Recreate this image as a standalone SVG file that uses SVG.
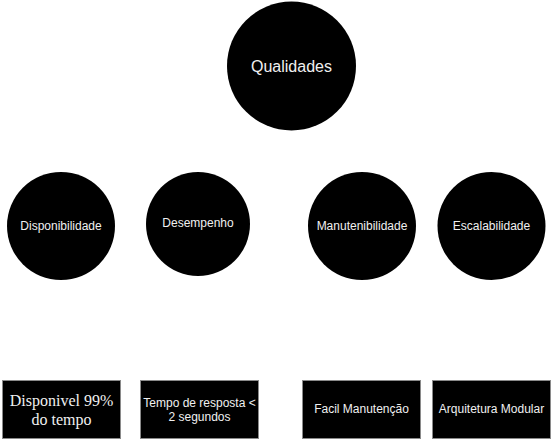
<svg xmlns="http://www.w3.org/2000/svg" width="553" height="441" viewBox="0 0 553 441">
<style>
.c{fill:#000;stroke:none}
.r{fill:#000;stroke:#8a8a8a;stroke-width:1}
.t{font-family:"Liberation Sans",Arial,sans-serif;font-size:12px;fill:#f0f0f0;text-anchor:middle}
.big{font-size:16px}
.serif{font-family:"Liberation Serif","Times New Roman",serif;font-size:16px;fill:#f0f0f0;text-anchor:middle}
</style>
<rect width="553" height="441" fill="#fff"/>
<g id="connectors"></g>
<g id="qualidades"><circle class="c" cx="291.5" cy="66" r="64.5"/><text class="t big" x="291.5" y="72">Qualidades</text></g>
<g id="disponibilidade"><circle class="c" cx="61" cy="226" r="54"/><text class="t" x="61" y="230">Disponibilidade</text></g>
<g id="desempenho"><circle class="c" cx="198" cy="224" r="52"/><text class="t" x="198" y="227">Desempenho</text></g>
<g id="manutenibilidade"><circle class="c" cx="362" cy="226" r="54"/><text class="t" x="362" y="230">Manutenibilidade</text></g>
<g id="escalabilidade"><circle class="c" cx="491.5" cy="226" r="54"/><text class="t" x="491.5" y="230">Escalabilidade</text></g>
<g id="disponivel99"><rect class="r" x="2.5" y="380.5" width="118" height="58"/><text class="serif" x="61.5" y="406">Disponivel 99%</text><text class="serif" x="61.5" y="425">do tempo</text></g>
<g id="tempoResposta"><rect class="r" x="140.5" y="380.5" width="118" height="58"/><text class="t" x="199.5" y="407">Tempo de resposta &lt;</text><text class="t" x="199.5" y="421">2 segundos</text></g>
<g id="facilManutencao"><rect class="r" x="302.5" y="380.5" width="118" height="58"/><text class="t" x="361.5" y="413">Facil Manutenção</text></g>
<g id="arquiteturaModular"><rect class="r" x="432.5" y="380.5" width="118" height="58"/><text class="t" x="491.5" y="413">Arquitetura Modular</text></g>
</svg>
